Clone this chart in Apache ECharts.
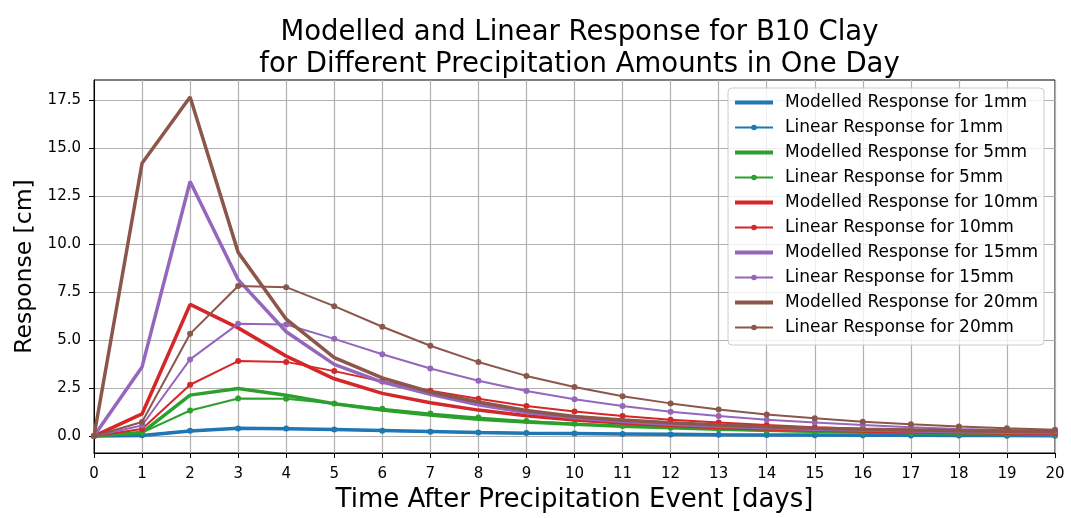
<!DOCTYPE html>
<html>
<head>
<meta charset="utf-8">
<script src="https://cdn.jsdelivr.net/npm/echarts@6/dist/echarts.min.js"></script>
<style>
  html, body { margin: 0; padding: 0; background: #fff; }
  #chart { width: 1071px; height: 518px; }
</style>
</head>
<body>
<div id="chart"></div>
<script>
// Days after the precipitation event
const days = [0, 1, 2, 3, 4, 5, 6, 7, 8, 9, 10, 11, 12, 13, 14, 15, 16, 17, 18, 19, 20];
const yTicks = [0, 2.5, 5, 7.5, 10, 12.5, 15, 17.5];

// Response [cm] per day, modelled and linear, for each precipitation amount
const mod1  = [0, 0.03, 0.26, 0.40, 0.38, 0.34, 0.29, 0.24, 0.19, 0.15, 0.13, 0.11, 0.09, 0.07, 0.06, 0.05, 0.04, 0.035, 0.03, 0.025, 0.02];
const lin1  = [0, 0.04, 0.27, 0.39, 0.39, 0.34, 0.28, 0.23, 0.19, 0.16, 0.13, 0.10, 0.085, 0.07, 0.057, 0.046, 0.038, 0.031, 0.025, 0.02, 0.017];
const mod5  = [0, 0.18, 2.13, 2.48, 2.12, 1.68, 1.35, 1.09, 0.88, 0.73, 0.61, 0.51, 0.43, 0.36, 0.30, 0.25, 0.21, 0.18, 0.15, 0.13, 0.11];
const lin5  = [0, 0.18, 1.33, 1.95, 1.94, 1.69, 1.42, 1.17, 0.96, 0.78, 0.64, 0.52, 0.43, 0.35, 0.28, 0.23, 0.19, 0.15, 0.12, 0.10, 0.08];
const mod10 = [0, 1.15, 6.85, 5.63, 4.16, 2.98, 2.22, 1.73, 1.35, 1.06, 0.84, 0.68, 0.55, 0.45, 0.37, 0.31, 0.26, 0.22, 0.19, 0.16, 0.14];
const lin10 = [0, 0.37, 2.67, 3.90, 3.86, 3.38, 2.84, 2.36, 1.94, 1.56, 1.28, 1.04, 0.85, 0.70, 0.57, 0.46, 0.38, 0.31, 0.25, 0.20, 0.17];
const mod15 = [0, 3.60, 13.25, 8.14, 5.43, 3.73, 2.81, 2.17, 1.63, 1.23, 0.95, 0.76, 0.62, 0.51, 0.43, 0.36, 0.31, 0.27, 0.23, 0.20, 0.18];
const lin15 = [0, 0.55, 3.99, 5.84, 5.81, 5.06, 4.26, 3.52, 2.88, 2.34, 1.91, 1.56, 1.27, 1.04, 0.85, 0.70, 0.57, 0.46, 0.37, 0.31, 0.25];
const mod20 = [0, 14.20, 17.65, 9.56, 6.08, 4.08, 3.03, 2.29, 1.77, 1.33, 1.02, 0.83, 0.69, 0.57, 0.48, 0.41, 0.36, 0.32, 0.28, 0.25, 0.22];
const lin20 = [0, 0.73, 5.32, 7.81, 7.75, 6.76, 5.69, 4.70, 3.85, 3.13, 2.55, 2.07, 1.70, 1.38, 1.12, 0.92, 0.75, 0.61, 0.50, 0.41, 0.33];

const amounts = ['1mm', '5mm', '10mm', '15mm', '20mm'];
const colors  = ['#1f77b4', '#2ca02c', '#d62728', '#9467bd', '#8c564b'];
const modelled = [mod1, mod5, mod10, mod15, mod20];
const linear   = [lin1, lin5, lin10, lin15, lin20];

const FONT = 'DejaVu Sans';
const GRID = { left: 94, right: 16, top: 80, bottom: 65 };
const WIDTH = 1071;

function pairs(values) {
  return days.map((d, i) => [d, values[i]]);
}

const series = [];
const legendItems = [];
amounts.forEach((amt, k) => {
  const mName = 'Modelled Response for ' + amt;
  const lName = 'Linear Response for ' + amt;
  series.push({
    name: mName,
    type: 'line',
    data: pairs(modelled[k]),
    symbol: 'none',
    lineStyle: { color: colors[k], width: 3.5 },
    itemStyle: { color: colors[k] },
    z: 2 + 2 * k
  });
  series.push({
    name: lName,
    type: 'line',
    data: pairs(linear[k]),
    symbol: 'circle',
    symbolSize: 6,
    showSymbol: true,
    lineStyle: { color: colors[k], width: 2 },
    itemStyle: { color: colors[k] },
    z: 3 + 2 * k
  });
  // thick plain line for modelled, thin line with a dot for linear
  legendItems.push({ name: mName, itemStyle: { opacity: 0 }, lineStyle: { color: colors[k], width: 4 } });
  legendItems.push({ name: lName, itemStyle: { color: colors[k] }, lineStyle: { color: colors[k], width: 2 } });
});

// title is centred over the plotting area
const plotCentre = GRID.left + (WIDTH - GRID.left - GRID.right) / 2;

const chart = echarts.init(document.getElementById('chart'), null, { renderer: 'canvas' });
chart.setOption({
  animation: false,
  backgroundColor: '#fff',
  title: {
    text: 'Modelled and Linear Response for B10 Clay\nfor Different Precipitation Amounts in One Day',
    left: plotCentre,
    textAlign: 'center',
    top: 12,
    textStyle: { fontFamily: FONT, fontSize: 27.5, fontWeight: 'normal', color: '#000', lineHeight: 32 }
  },
  grid: Object.assign({
    show: true, borderColor: '#000', borderWidth: 1, backgroundColor: 'transparent'
  }, GRID),
  legend: {
    orient: 'vertical',
    left: 728,
    top: 88,
    padding: [6, 6, 9, 5],
    itemWidth: 38,
    itemHeight: 7,
    itemGap: 8,
    backgroundColor: 'rgba(255,255,255,0.8)',
    borderColor: '#cccccc',
    borderWidth: 1,
    borderRadius: 4,
    textStyle: { fontFamily: FONT, fontSize: 17, lineHeight: 17, color: '#000', padding: [0, 0, 0, 7] },
    data: legendItems
  },
  xAxis: {
    type: 'value',
    min: 0,
    max: 20,
    interval: 1,
    name: 'Time After Precipitation Event [days]',
    nameLocation: 'middle',
    nameGap: 32,
    nameTextStyle: { fontFamily: FONT, fontSize: 26, color: '#000' },
    axisLine: { onZero: false, lineStyle: { color: '#000', width: 1 } },
    axisTick: { show: true, length: 5, lineStyle: { color: '#000' } },
    axisLabel: { fontFamily: FONT, fontSize: 15, color: '#000', margin: 14 },
    splitLine: { show: true, lineStyle: { color: '#b0b0b0', width: 1.2 } }
  },
  yAxis: {
    type: 'value',
    min: -0.8825,
    max: 18.5325,
    name: 'Response [cm]',
    nameLocation: 'middle',
    nameRotate: 90,
    nameGap: 57,
    nameTextStyle: { fontFamily: FONT, fontSize: 23.5, color: '#000' },
    axisLine: { show: true, lineStyle: { color: '#000', width: 1 } },
    axisTick: { show: true, length: 5, customValues: yTicks, lineStyle: { color: '#000' } },
    axisLabel: {
      fontFamily: FONT, fontSize: 15, color: '#000', margin: 13,
      customValues: yTicks,
      formatter: v => Number(v).toFixed(1)
    },
    splitLine: { show: true, lineStyle: { color: '#b0b0b0', width: 1.2 } }
  },
  series: series
});
</script>
</body>
</html>
